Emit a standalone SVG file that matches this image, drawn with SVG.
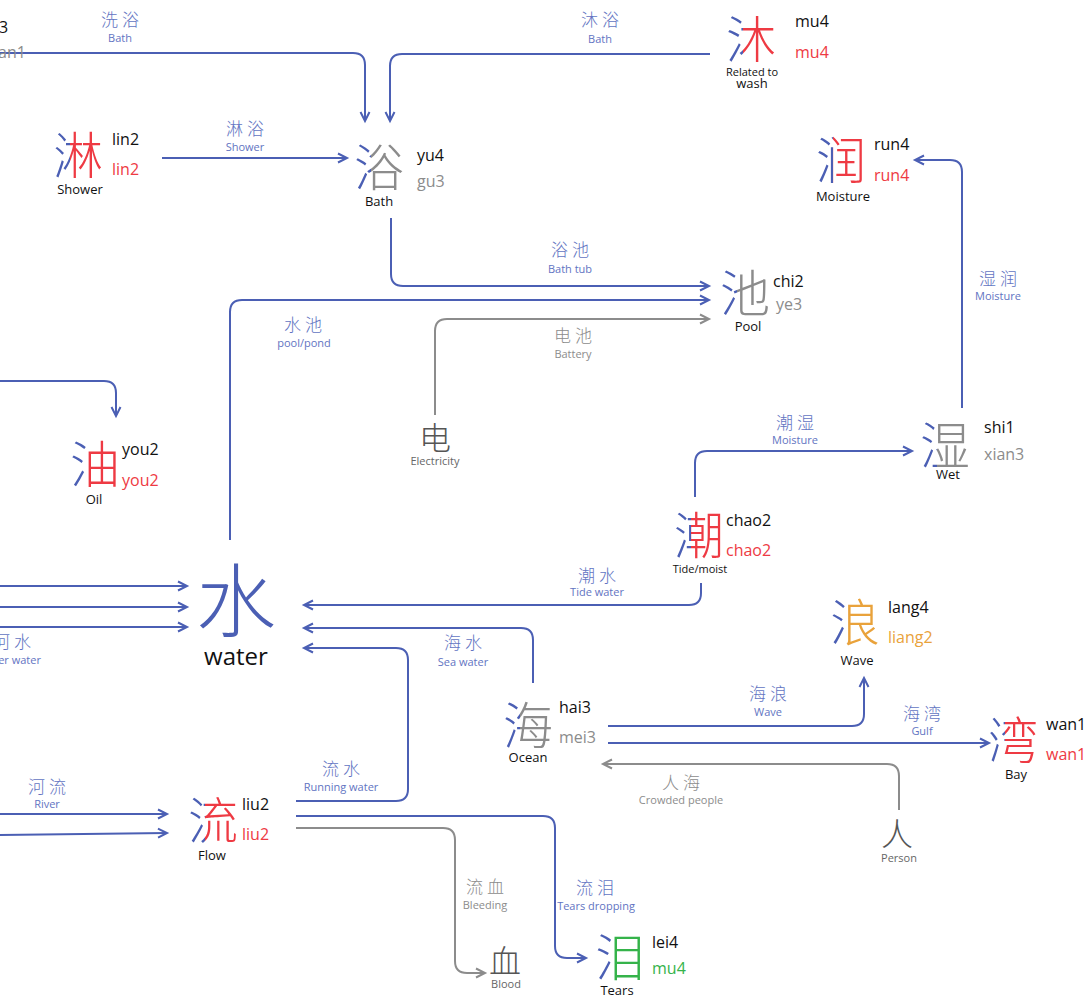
<svg xmlns="http://www.w3.org/2000/svg" width="1087" height="1001" viewBox="0 0 1087 1001">
<style>
.ch{font-family:"Noto Sans CJK SC","Noto Sans CJK TC",sans-serif;font-weight:300;font-size:50px}
.sm{font-size:32px}
.big{font-size:80px}
.b{fill:#4b5fb4}.r{fill:#ee3a43}.g{fill:#8c8c8c}.gr{fill:#35b34a}.o{fill:#e9a23b}.k{fill:#111}
.xr{fill:url(#gR)}.xg{fill:url(#gG)}.xo{fill:url(#gO)}.xn{fill:url(#gN)}
.py{font-family:"Open Sans","Noto Sans",sans-serif;font-size:16px}
.lb{font-family:"Open Sans","Noto Sans",sans-serif;font-size:13px;fill:#111;text-anchor:middle}
.lbs{font-family:"Open Sans","Noto Sans",sans-serif;font-size:11px;text-anchor:middle}
.ec{font-family:"Noto Sans CJK SC",sans-serif;font-weight:300;font-size:17px;text-anchor:middle;letter-spacing:4px}
.ee{font-family:"Open Sans","Noto Sans",sans-serif;font-size:11px;text-anchor:middle}
.lblue{fill:#6274c2}.lgray{fill:#8c8c8c}
.cb{fill:none;stroke:#4b5fb4;stroke-width:2}
.cg{fill:none;stroke:#8c8c8c;stroke-width:2}
.ab{marker-end:url(#mb)}.ag{marker-end:url(#mg)}
</style>
<defs>
<marker id="mb" markerUnits="userSpaceOnUse" markerWidth="14" markerHeight="14" refX="10" refY="5" orient="auto" overflow="visible">
<path d="M1,0.5 L10,5 L1,9.5" fill="none" stroke="#4b5fb4" stroke-width="2"/>
</marker>
<marker id="mg" markerUnits="userSpaceOnUse" markerWidth="14" markerHeight="14" refX="10" refY="5" orient="auto" overflow="visible">
<path d="M1,0.5 L10,5 L1,9.5" fill="none" stroke="#8c8c8c" stroke-width="2"/>
</marker>
<linearGradient id="gR" x1="0" y1="0" x2="1" y2="0"><stop offset="0" stop-color="#4b5fb4"/><stop offset="0.34" stop-color="#4b5fb4"/><stop offset="0.34" stop-color="#ee3a43"/><stop offset="1" stop-color="#ee3a43"/></linearGradient>
<linearGradient id="gG" x1="0" y1="0" x2="1" y2="0"><stop offset="0" stop-color="#4b5fb4"/><stop offset="0.34" stop-color="#4b5fb4"/><stop offset="0.34" stop-color="#8c8c8c"/><stop offset="1" stop-color="#8c8c8c"/></linearGradient>
<linearGradient id="gO" x1="0" y1="0" x2="1" y2="0"><stop offset="0" stop-color="#4b5fb4"/><stop offset="0.34" stop-color="#4b5fb4"/><stop offset="0.34" stop-color="#e9a23b"/><stop offset="1" stop-color="#e9a23b"/></linearGradient>
<linearGradient id="gN" x1="0" y1="0" x2="1" y2="0"><stop offset="0" stop-color="#4b5fb4"/><stop offset="0.34" stop-color="#4b5fb4"/><stop offset="0.34" stop-color="#35b34a"/><stop offset="1" stop-color="#35b34a"/></linearGradient>
</defs>
<rect width="1087" height="1001" fill="#fff"/>

<g id="connectors">
<path class="cb ab" d="M0,53 H353 Q365,53 365,65 V121"/>
<path class="cb ab" d="M710,54 H402 Q390,54 390,66 V121"/>
<path class="cb ab" d="M162,158 H347"/>
<path class="cb ab" d="M391,218 V274 Q391,286 403,286 H709"/>
<path class="cb ab" d="M230,540 V312 Q230,300 242,300 H709"/>
<path class="cg ag" d="M435,415 V331 Q435,319 447,319 H709"/>
<path class="cb ab" d="M0,381 H104 Q116,381 116,393 V416"/>
<path class="cb ab" d="M695,497 V463 Q695,451 707,451 H912"/>
<path class="cb ab" d="M962,408 V172 Q962,160 950,160 H915"/>
<path class="cb ab" d="M0,586 H187"/>
<path class="cb ab" d="M0,607 H187"/>
<path class="cb ab" d="M0,627 H187"/>
<path class="cb ab" d="M701,583 V593 Q701,605 689,605 H304"/>
<path class="cb ab" d="M533,683 V640 Q533,628 521,628 H304"/>
<path class="cb ab" d="M296,801 H396 Q408,801 408,789 V660 Q408,648 396,648 H304"/>
<path class="cb ab" d="M0,814 H167"/>
<path class="cb ab" d="M0,835 L167,833"/>
<path class="cb ab" d="M296,816 H543 Q555,816 555,828 V946 Q555,958 567,958 H586"/>
<path class="cg ag" d="M296,828 H443 Q455,828 455,840 V961 Q455,973 467,973 H485"/>
<path class="cb ab" d="M608,726 H852 Q864,726 864,714 V678"/>
<path class="cb ab" d="M608,743 H989"/>
<path class="cg ag" d="M899,810 V776 Q899,764 887,764 H603"/>

<text class="ec lblue" x="122" y="26">洗浴</text><text class="ee lblue" x="120" y="42">Bath</text>
<text class="ec lblue" x="602" y="26">沐浴</text><text class="ee lblue" x="600" y="43">Bath</text>
<text class="ec lblue" x="247" y="135">淋浴</text><text class="ee lblue" x="245" y="151">Shower</text>
<text class="ec lblue" x="572" y="256">浴池</text><text class="ee lblue" x="570" y="273">Bath tub</text>
<text class="ec lblue" x="305" y="331">水池</text><text class="ee lblue" x="304" y="347">pool/pond</text>
<text class="ec lgray" x="575" y="342">电池</text><text class="ee lgray" x="573" y="358">Battery</text>
<text class="ec lblue" x="797" y="429">潮湿</text><text class="ee lblue" x="795" y="444">Moisture</text>
<text class="ec lblue" x="1000" y="285">湿润</text><text class="ee lblue" x="998" y="300">Moisture</text>
<text class="ec lblue" x="14" y="648">河水</text><text class="ee lblue" x="12" y="664">River water</text>
<text class="ec lblue" x="599" y="582">潮水</text><text class="ee lblue" x="597" y="596">Tide water</text>
<text class="ec lblue" x="465" y="649">海水</text><text class="ee lblue" x="463" y="666">Sea water</text>
<text class="ec lblue" x="343" y="775">流水</text><text class="ee lblue" x="341" y="791">Running water</text>
<text class="ec lblue" x="49" y="793">河流</text><text class="ee lblue" x="47" y="808">River</text>
<text class="ec lblue" x="597" y="894">流泪</text><text class="ee lblue" x="596" y="910">Tears dropping</text>
<text class="ec lgray" x="487" y="893">流血</text><text class="ee lgray" x="485" y="909">Bleeding</text>
<text class="ec lblue" x="770" y="700">海浪</text><text class="ee lblue" x="768" y="716">Wave</text>
<text class="ec lblue" x="924" y="720">海湾</text><text class="ee lblue" x="922" y="735">Gulf</text>
<text class="ec lgray" x="683" y="789">人海</text><text class="ee lgray" x="681" y="804">Crowded people</text>
</g>

<g id="n-partial">
<text class="py k" x="-1" y="33">3</text>
<text class="py g" x="-2" y="58">an1</text>
</g>

<g id="n-lin">
<text class="ch xr" x="53" y="174">淋</text>
<text class="py k" x="112" y="145">lin2</text><text class="py r" x="112" y="175">lin2</text>
<text class="lb" x="80" y="194">Shower</text>
</g>

<g id="n-yu">
<text class="ch xg" x="354" y="186">浴</text>
<text class="py k" x="417" y="161">yu4</text><text class="py g" x="417" y="187">gu3</text>
<text class="lb" x="379" y="206">Bath</text>
</g>

<g id="n-mu">
<text class="ch xr" x="726" y="58">沐</text>
<text class="py k" x="795" y="27">mu4</text><text class="py r" x="795" y="58">mu4</text>
<text class="lbs" x="752" y="76" fill="#111">Related to</text>
<text class="lb" x="752" y="88">wash</text>
</g>

<g id="n-run">
<text class="ch xr" x="816" y="179">润</text>
<text class="py k" x="874" y="150">run4</text><text class="py r" x="874" y="181">run4</text>
<text class="lb" x="843" y="201">Moisture</text>
</g>

<g id="n-chi">
<text class="ch xg" x="720" y="312">池</text>
<text class="py k" x="773" y="287">chi2</text><text class="py g" x="776" y="310">ye3</text>
<text class="lb" x="748" y="331">Pool</text>
</g>

<g id="n-dian">
<text class="ch sm" x="419" y="450" fill="#555">电</text>
<text class="lbs" x="435" y="465" fill="#666">Electricity</text>
</g>

<g id="n-you">
<text class="ch xr" x="70" y="483">油</text>
<text class="py k" x="122" y="455">you2</text><text class="py r" x="122" y="486">you2</text>
<text class="lb" x="94" y="504">Oil</text>
</g>

<g id="n-shi">
<text class="ch xg" x="920" y="464">湿</text>
<text class="py k" x="984" y="433">shi1</text><text class="py g" x="984" y="460">xian3</text>
<text class="lb" x="948" y="479">Wet</text>
</g>

<g id="n-chao">
<text class="ch xr" x="674" y="554">潮</text>
<text class="py k" x="726" y="526">chao2</text><text class="py r" x="726" y="556">chao2</text>
<text class="lbs" x="700" y="573" fill="#111">Tide/moist</text>
</g>

<g id="n-shui">
<text class="ch big b" x="196" y="630">水</text>
<text x="236" y="665" text-anchor="middle" font-family="Open Sans, Noto Sans, sans-serif" font-size="24" fill="#111">water</text>
</g>

<g id="n-lang">
<text class="ch xo" x="830" y="641">浪</text>
<text class="py k" x="888" y="613">lang4</text><text class="py o" x="888" y="643">liang2</text>
<text class="lb" x="857" y="665">Wave</text>
</g>

<g id="n-hai">
<text class="ch xg" x="503" y="744">海</text>
<text class="py k" x="559" y="713">hai3</text><text class="py g" x="559" y="743">mei3</text>
<text class="lb" x="528" y="762">Ocean</text>
</g>

<g id="n-wan">
<text class="ch xr" x="988" y="759">湾</text>
<text class="py k" x="1046" y="730">wan1</text><text class="py r" x="1046" y="760">wan1</text>
<text class="lb" x="1016" y="779">Bay</text>
</g>

<g id="n-ren">
<text class="ch sm" x="881" y="846" fill="#555">人</text>
<text class="lbs" x="899" y="862" fill="#666">Person</text>
</g>

<g id="n-liu">
<text class="ch xr" x="188" y="839">流</text>
<text class="py k" x="242" y="810">liu2</text><text class="py r" x="242" y="840">liu2</text>
<text class="lb" x="212" y="860">Flow</text>
</g>

<g id="n-xue">
<text class="ch sm" x="489" y="973" fill="#555">血</text>
<text class="lbs" x="506" y="988" fill="#666">Blood</text>
</g>

<g id="n-lei">
<text class="ch xn" x="595" y="976">泪</text>
<text class="py k" x="652" y="948">lei4</text><text class="py gr" x="652" y="974">mu4</text>
<text class="lb" x="617" y="995">Tears</text>
</g>
</svg>
